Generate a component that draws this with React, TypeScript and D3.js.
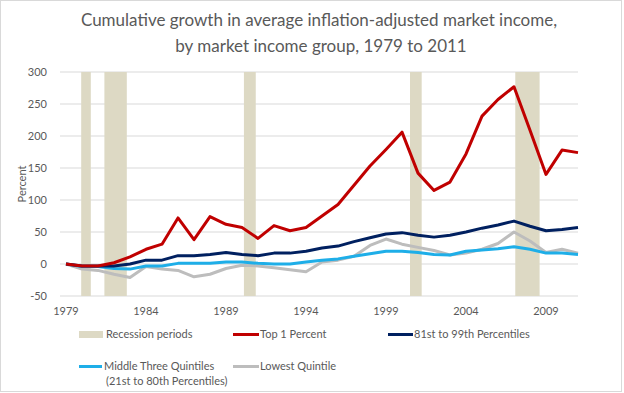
import React from 'react';
import * as d3 from 'd3';

// cumulative growth since 1979, percent
const years = d3.range(1979, 2012);
const top1 = [0, -3, -3, 2, 11, 23, 31, 72, 38, 74, 62, 57, 40, 60, 52, 57, 75, 93, 123, 153, 179, 206, 142, 115, 128, 172, 231, 257, 277, 209, 140, 178, 174];
const p81to99 = [0, -3, -3, -3, 0, 6, 6, 13, 13, 15, 18, 15, 13, 17, 17, 20, 25, 28, 35, 41, 47, 49, 45, 42, 45, 50, 56, 61, 67, 59, 52, 54, 57];
const middle3 = [0, -4, -4, -7, -8, -3, -3, 1, 1, 1, 3, 3, 1, 0, 0, 3, 6, 8, 12, 16, 20, 20, 18, 15, 14, 20, 22, 24, 27, 23, 17, 17, 15];
const lowest = [0, -8, -10, -16, -21, -4, -8, -10, -20, -16, -7, -2, -3, -6, -9, -12, 3, 6, 12, 29, 39, 31, 26, 21, 14, 17, 23, 32, 50, 36, 18, 23, 17];

// recession periods (fractional years)
const recessionStart = [1979.95, 1981.4, 1990.12, 2000.5, 2007.08];
const recessionEnd = [1980.55, 1982.8, 1990.86, 2001.23, 2008.6];

const yTicks = [-50, 0, 50, 100, 150, 200, 250, 300];
const xTicks = [1979, 1984, 1989, 1994, 1999, 2004, 2009];

const series = [
  { name: 'Top 1 Percent', values: top1, color: '#C00000' },
  { name: '81st to 99th Percentiles', values: p81to99, color: '#002060' },
  { name: 'Middle Three Quintiles', values: middle3, color: '#1EAEE8' },
  { name: 'Lowest Quintile', values: lowest, color: '#BDBDBD' },
];
// draw order: light lines under dark ones
const drawOrder = [3, 2, 1, 0];

const W = 624, H = 393;
const textColor = '#595959';
const font = 'Lato, "Open Sans", sans-serif';

export default function App() {
  const x = d3.scaleLinear().domain([1979, 2011]).range([66, 578]);
  const y = d3.scaleLinear().domain([-50, 300]).range([296, 72]);
  const line = d3.line<number>().x((_, i) => x(years[i])).y(d => y(d));

  return (
    <svg width={W} height={H} style={{ position: 'absolute', left: 0, top: 0, fontFamily: font }}>
      <rect x={0.5} y={0.5} width={621} height={391} fill="#fff" stroke="#d9d9d9" />

      <text x={319} y={26} textAnchor="middle" fontSize={17} fill={textColor}>
        Cumulative growth in average inflation-adjusted market income,
      </text>
      <text x={321} y={52} textAnchor="middle" fontSize={17} fill={textColor}>
        by market income group, 1979 to 2011
      </text>

      {/* grid */}
      {yTicks.map(t => (
        <g key={t}>
          <line x1={60} x2={578} y1={y(t)} y2={y(t)} stroke="#d9d9d9" strokeWidth={1} />
          <text x={47} y={y(t) + 4} textAnchor="end" fontSize={11} fill={textColor}>{t}</text>
        </g>
      ))}

      {/* recessions */}
      {recessionStart.map((s, i) => (
        <rect key={s} x={x(s)} y={y(300)} width={x(recessionEnd[i]) - x(s)} height={y(-50) - y(300)} fill="#DDD9C4" />
      ))}

      {xTicks.map(t => (
        <text key={t} x={x(t)} y={315} textAnchor="middle" fontSize={11} fill={textColor}>{t}</text>
      ))}

      <text transform={`translate(26,${y(125)}) rotate(-90)`} textAnchor="middle" fontSize={11} fill={textColor}>Percent</text>

      {drawOrder.map(i => (
        <path key={series[i].name} d={line(series[i].values) || ''} fill="none" stroke={series[i].color} strokeWidth={3} strokeLinejoin="round" />
      ))}

      {/* legend */}
      <g fontSize={11} fill={textColor}>
        <rect x={79} y={331} width={24} height={7} fill="#DDD9C4" />
        <text x={106} y={338}>Recession periods</text>

        <line x1={233} x2={259} y1={334.5} y2={334.5} stroke={series[0].color} strokeWidth={3} />
        <text x={260} y={338}>{series[0].name}</text>

        <line x1={388} x2={413} y1={334.5} y2={334.5} stroke={series[1].color} strokeWidth={3} />
        <text x={414} y={338}>{series[1].name}</text>

        <line x1={79} x2={102} y1={366.5} y2={366.5} stroke={series[2].color} strokeWidth={3} />
        <text x={104} y={370}>{series[2].name}</text>
        <text x={106} y={385}>(21st to 80th Percentiles)</text>

        <line x1={233} x2={259} y1={366.5} y2={366.5} stroke={series[3].color} strokeWidth={3} />
        <text x={260} y={370}>{series[3].name}</text>
      </g>
    </svg>
  );
}
